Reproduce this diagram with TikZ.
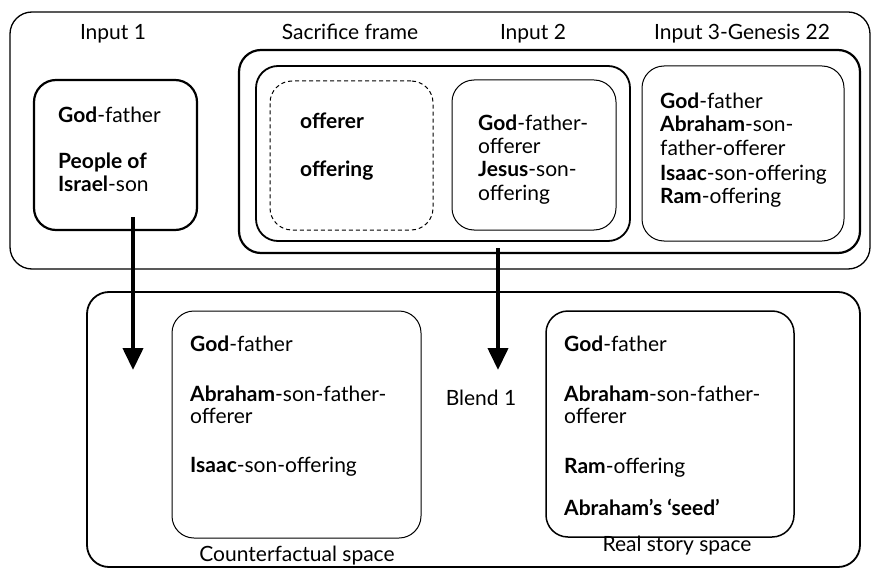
\documentclass[tikz,border=0pt]{standalone}
\usepackage{fontspec}
\setmainfont{Lato}
\usetikzlibrary{arrows.meta}
\begin{document}
\begin{tikzpicture}[x=1pt,y=-1pt,
  box/.style={draw, rounded corners=22pt, inner sep=0pt},
  txt/.style={anchor=base west, inner sep=0pt, font=\fontsize{21}{23}\selectfont},
  lbl/.style={anchor=base, inner sep=0pt, font=\fontsize{21}{23}\selectfont},
  bigarrow/.style={line width=4pt, -{Triangle[width=20pt,length=22pt]}}]
\useasboundingbox (0,0) rectangle (874,572);
% boxes
\node[box, line width=1.3pt, minimum width=860pt, minimum height=257pt] (top) at (440,140.5) {};
\node[box, line width=2.2pt, minimum width=163pt, minimum height=150pt] (in1) at (115.5,155) {};
\node[box, line width=2.2pt, minimum width=621pt, minimum height=203pt] (sac) at (549.5,151.5) {};
\node[box, line width=1.8pt, minimum width=374pt, minimum height=175pt] (inner) at (443,153.5) {};
\node[box, line width=1pt, dash pattern=on 4pt off 3pt, minimum width=163pt, minimum height=149pt] (frame) at (351.5,155.5) {};
\node[box, line width=1pt, minimum width=164pt, minimum height=150pt] (in2) at (534,155) {};
\node[box, line width=1pt, minimum width=202pt, minimum height=175pt] (in3) at (743,153.5) {};
\node[box, line width=1.8pt, minimum width=773pt, minimum height=275pt] (blend) at (473.5,429.5) {};
\node[box, line width=1pt, minimum width=249pt, minimum height=227pt] (cf) at (296.5,424.5) {};
\node[box, line width=1.5pt, minimum width=248pt, minimum height=226pt] (rs) at (670,424) {};
% labels
\node[lbl] (l1) at (113,39.5) {Input 1};
\node[lbl] (l2) at (350,39.5) {Sacrifice frame};
\node[lbl] (l3) at (533,39.5) {Input 2};
\node[lbl] (l4) at (742,39.5) {Input 3-Genesis 22};
\node[lbl] (l5) at (481,405) {Blend 1};
\node[lbl] (l6) at (297,561.7) {Counterfactual space};
\node[lbl] (l7) at (677,551.7) {Real story space};
% input 1
\node[txt] (i1a) at (58,122.7) {\textbf{God}-father};
\node[txt] (i1b) at (58,168) {\textbf{People of}};
\node[txt] (i1c) at (58,191.7) {\textbf{Israel}-son};
% frame
\node[txt] (fa) at (300,128.3) {\textbf{offerer}};
\node[txt] (fb) at (300,176.7) {\textbf{offering}};
% input 2
\node[txt] (i2a) at (478,130.7) {\textbf{God}-father-};
\node[txt] (i2b) at (478,153.5) {offerer};
\node[txt] (i2c) at (478,176.7) {\textbf{Jesus}-son-};
\node[txt] (i2d) at (478,200) {offering};
% input 3
\node[txt] (i3a) at (660,108.3) {\textbf{God}-father};
\node[txt] (i3b) at (660,131.7) {\textbf{Abraham}-son-};
\node[txt] (i3c) at (660,156) {father-offerer};
\node[txt] (i3d) at (660,180) {\textbf{Isaac}-son-offering};
\node[txt] (i3e) at (660,203.3) {\textbf{Ram}-offering};
% counterfactual
\node[txt] (c1) at (190,351.7) {\textbf{God}-father};
\node[txt] (c2) at (190,401.7) {\textbf{Abraham}-son-father-};
\node[txt] (c3) at (190,423.3) {offerer};
\node[txt] (c4) at (190,472.7) {\textbf{Isaac}-son-offering};
% real story
\node[txt] (r1) at (564,351.7) {\textbf{God}-father};
\node[txt] (r2) at (564,401.7) {\textbf{Abraham}-son-father-};
\node[txt] (r3) at (564,423.3) {offerer};
\node[txt] (r4) at (564,473.3) {\textbf{Ram}-offering};
\node[txt] (r5) at (564,515) {\textbf{Abraham’s ‘seed’}};
% arrows
\coordinate (a1s) at (133,217);
\coordinate (a1e) at (133,370);
\coordinate (a2s) at (498,248);
\coordinate (a2e) at (498,370);
\draw[bigarrow] (a1s) -- (a1e);
\draw[bigarrow] (a2s) -- (a2e);
\end{tikzpicture}
\end{document}
